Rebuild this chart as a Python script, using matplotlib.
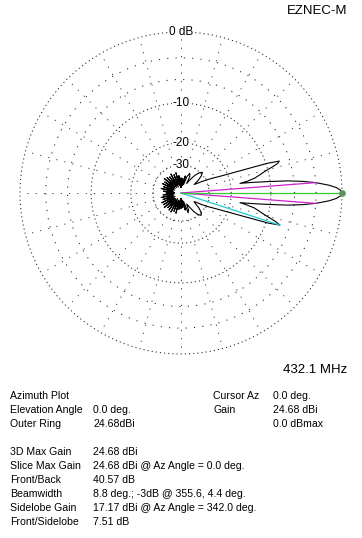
import numpy as np
import matplotlib
matplotlib.use("Agg")
import matplotlib.pyplot as plt

plt.rcParams["font.family"] = ["Liberation Sans", "DejaVu Sans"]
plt.rcParams["lines.scale_dashes"] = False

# azimuth pattern, degrees (0 = right, counter-clockwise) and dB below max
az_deg = [0, 1, 2, 3, 4.4, 5.5, 6.5, 7.5, 8.5, 9.3, 10, 11.5, 13, 14.5, 16, 17, 18,
          19, 20, 21.5, 23, 25, 27, 29, 31, 33, 36, 40, 44, 48, 52, 56, 59, 62, 66,
          70, 73, 76, 79, 83, 87, 90, 93, 97, 100, 104, 107, 111, 114, 118, 121, 125,
          128, 132, 135, 139, 142, 146, 149, 153, 156, 160, 163, 167, 170, 174, 177,
          180, 183, 186, 189, 193, 196, 200, 203, 207, 210, 214, 217, 221, 224, 228,
          231, 235, 238, 242, 245, 249, 252, 256, 259, 263, 267, 270, 273, 277, 281,
          284, 287, 290, 294, 297, 300, 304, 308, 312, 316, 320, 324, 327, 329, 331,
          333, 335, 337, 338.5, 340, 341, 342, 343, 344, 345.5, 347, 348.5, 350,
          350.7, 351.5, 352.5, 353.5, 354.5, 355.6, 357, 358, 359, 360]
gain_db = [0.0, -0.15, -0.6, -1.4, -3.0, -4.8, -7.0, -10.5, -14.0, -17.0, -15.0, -13.0,
           -11.8, -10.6, -9.0, -8.0, -7.6, -9.8, -14.0, -18.5, -22.5, -26.0, -29.5,
           -33.0, -37.5, -40.0, -35.0, -31.0, -29.0, -30.5, -34.0, -40.0, -46.0, -37.0,
           -34.5, -38.0, -50.0, -38.0, -52.0, -41.0, -58.0, -40.5, -58.0, -38.0, -52.0,
           -35.0, -50.0, -36.0, -55.0, -34.5, -50.0, -36.0, -54.0, -35.0, -50.0, -34.0,
           -53.0, -36.0, -50.0, -35.0, -54.0, -37.0, -50.0, -35.5, -52.0, -38.0, -55.0,
           -40.57, -55.0, -37.5, -51.0, -35.5, -53.0, -36.5, -50.0, -34.5, -54.0, -35.0,
           -50.0, -34.0, -52.0, -36.0, -50.0, -35.0, -55.0, -34.5, -50.0, -36.0, -53.0,
           -35.0, -51.0, -39.0, -58.0, -40.0, -58.0, -41.0, -52.0, -38.0, -50.0, -35.0,
           -37.0, -44.0, -41.0, -34.5, -30.5, -28.8, -30.0, -33.0, -38.0, -40.0, -36.5,
           -32.5, -29.0, -26.0, -22.0, -18.0, -13.5, -9.5, -7.51, -8.2, -9.2, -10.8,
           -12.0, -13.2, -15.5, -17.0, -14.0, -10.5, -7.0, -4.8, -3.0, -1.4, -0.6,
           -0.15, 0.0]

ring_db = [0, -3, -6, -10, -20, -30]
ring_labels = {0: "0 dB", -10: "-10", -20: "-20", -30: "-30"}
spoke_deg = list(range(0, 360, 15))

max_az, bw_lo, bw_hi, side_az, side_db = 0.0, 355.6, 4.4, 342.0, -7.51

left_rows = ["Azimuth Plot", "Elevation Angle", "Outer Ring", "",
             "3D Max Gain", "Slice Max Gain", "Front/Back", "Beamwidth",
             "Sidelobe Gain", "Front/Sidelobe"]
left_vals = ["", "0.0 deg.", "24.68dBi", "",
             "24.68 dBi", "24.68 dBi @ Az Angle = 0.0 deg.", "40.57 dB",
             "8.8 deg.; -3dB @ 355.6, 4.4 deg.", "17.17 dBi @ Az Angle = 342.0 deg.",
             "7.51 dB"]
right_rows = ["Cursor Az", "Gain", ""]
right_vals = ["0.0 deg.", "24.68 dBi", "0.0 dBmax"]


def arrl(db):
    # ARRL log scale: 0.89 per 2 dB
    return 0.89 ** (-np.asarray(db, dtype=float) / 2.0)


W, H = 362, 538
fig = plt.figure(figsize=(W / 100, H / 100), dpi=100)
fig.patch.set_facecolor("white")
cx, cy, R = 181, 193, 161
ax = fig.add_axes([(cx - R) / W, (H - cy - R) / H, 2 * R / W, 2 * R / H], projection="polar")
ax.set_ylim(0, 1)
ax.set_axis_off()

t = np.linspace(0, 2 * np.pi, 720)
dense = (0, (0.8, 2.2))
sparse = (0, (0.8, 5.2))
for db in ring_db:
    r = float(arrl(db))
    ls = sparse if db in (-3, -6) else dense
    ax.plot(t, np.full_like(t, r), color="#222222", lw=0.75, ls=ls, clip_on=False)
for a in spoke_deg:
    ax.plot([np.radians(a)] * 2, [float(arrl(-30)), 1.0], color="#333333", lw=0.7,
            ls=sparse, clip_on=False)
for db, txt in ring_labels.items():
    ax.text(np.pi / 2, float(arrl(db)), txt, ha="center", va="center", fontsize=8.5,
            bbox=dict(facecolor="white", edgecolor="none", pad=0.5), zorder=5)

th = np.radians(az_deg)
ax.plot(th, arrl(gain_db), color="black", lw=0.8, zorder=3)

r_bw = float(arrl(-3.0))
ax.plot([0, np.radians(bw_lo)], [0, r_bw], color="#cc22cc", lw=0.9, zorder=4)
ax.plot([0, np.radians(bw_hi)], [0, r_bw], color="#cc22cc", lw=0.9, zorder=4)
ax.plot([0, np.radians(side_az)], [0, float(arrl(side_db))], color="#22cccc", lw=0.9, zorder=4)
ax.plot([0, np.radians(max_az)], [0, 1.0], color="#33cc33", lw=0.9, zorder=4)
ax.plot([np.radians(max_az)], [1.0], "o", color="#5f8f5f", ms=3.8, zorder=6, clip_on=False)

fs = 7.6


def ftext(x, y, s, **kw):
    fig.text(x / W, 1 - y / H, s, va="center", **kw)


ftext(347, 11, "EZNEC-M", ha="right", fontsize=9.5)
ftext(347, 370, "432.1 MHz", ha="right", fontsize=9.5)
y0, dy = 396, 14
for i, (lab, val) in enumerate(zip(left_rows, left_vals)):
    y = y0 + i * dy
    ftext(10, y, lab, fontsize=fs)
    ftext(93, y, val, fontsize=fs)
for i, (lab, val) in enumerate(zip(right_rows, right_vals)):
    y = y0 + i * dy
    ftext(213, y, lab, fontsize=fs)
    ftext(273, y, val, fontsize=fs)

fig.savefig("out.png", dpi=100, facecolor="white")
